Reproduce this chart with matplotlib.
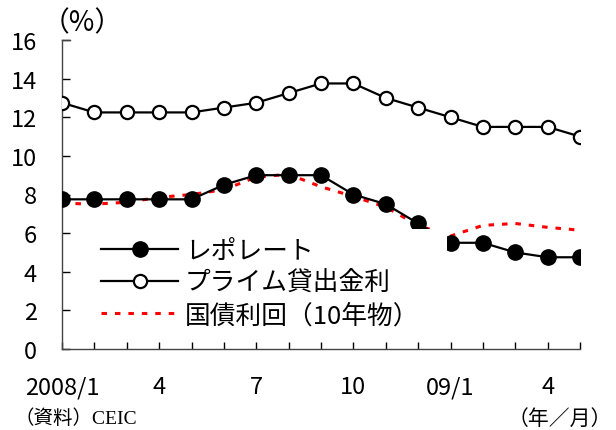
import matplotlib
matplotlib.use("Agg")
import matplotlib.pyplot as plt
from matplotlib.patches import Rectangle

plt.rcParams['font.family'] = ['Noto Sans CJK JP', 'DejaVu Sans']

months = list(range(17))
tick_pos = [0, 3, 6, 9, 12, 15]
tick_labels = ["2008/1", "4", "7", "10", "09/1", "4"]

repo = [7.75, 7.75, 7.75, 7.75, 7.75, 8.5, 9.0, 9.0, 9.0, 8.0, 7.5, 6.5, 5.5, 5.5, 5.0, 4.75, 4.75]
prime = [12.75, 12.25, 12.25, 12.25, 12.25, 12.5, 12.75, 13.25, 13.75, 13.75, 13.0, 12.5, 12.0, 11.5, 11.5, 11.5, 11.0]
bond = [7.55, 7.5, 7.6, 7.85, 8.0, 8.25, 8.9, 9.05, 8.4, 7.9, 7.35, 6.4, 5.85, 6.4, 6.5, 6.3, 6.15]

labels = ["レポレート", "プライム貸出金利", "国債利回（10年物）"]

fig = plt.figure(figsize=(6.16, 4.31), dpi=100)
ax = fig.add_axes([62/616, 1-350/431, 518/616, 309/431])

lb, = ax.plot(months, bond, color="red", lw=2.2, dashes=(1.8, 2.6), zorder=2, label=labels[2])
lr, = ax.plot(months, repo, color="black", lw=1.6, marker="o", ms=11, mfc="black", mec="black", zorder=3, label=labels[0])
lp, = ax.plot(months, prime, color="black", lw=1.6, marker="o", ms=9.5, mfc="white", mec="black", mew=1.6, zorder=3, label=labels[1])

ax.set_xlim(0, 16)
ax.set_ylim(0, 16)
ax.set_yticks(range(0, 17, 2))
ax.set_xticks(months)
ax.set_xticklabels([tick_labels[tick_pos.index(m)] if m in tick_pos else "" for m in months])
ax.tick_params(axis='x', direction='in', length=5, width=1, pad=19, labelsize=17)
ax.tick_params(axis='y', direction='in', length=6, width=1, pad=18, labelsize=17)
for s in ["top", "right"]:
    ax.spines[s].set_visible(False)
for s in ["left", "bottom"]:
    ax.spines[s].set_color("#444444")
    ax.spines[s].set_linewidth(1)
ax.spines["left"].set_bounds(0, 16)
ax.plot([0, 0.25], [16, 16], color="#444444", lw=1, clip_on=False)

# white area behind legend
ax.add_patch(Rectangle(((95-62)/518, (350-330)/309), (447-95)/518, (330-230)/309,
                       transform=ax.transAxes, facecolor="white", edgecolor="none", zorder=4))

leg = ax.legend(handles=[lr, lp, lb], loc="upper left",
                bbox_to_anchor=(101/616, 1-239/431), bbox_transform=fig.transFigure,
                frameon=False, fontsize=18.5, handlelength=3.0, handletextpad=0.27,
                labelspacing=0.24, borderpad=0, borderaxespad=0)
leg.set_zorder(5)

fig.text(82/616, 1-23/431, "（%）", ha="center", va="center", fontsize=20)
fig.text(14/616, 1-419/431, "（資料）CEIC", ha="left", va="center", fontsize=14,
         family=['Liberation Serif', 'Noto Sans CJK JP'])
fig.text(612/616, 1-419/431, "（年／月）", ha="right", va="center", fontsize=15)

fig.savefig("out.png", dpi=100)
